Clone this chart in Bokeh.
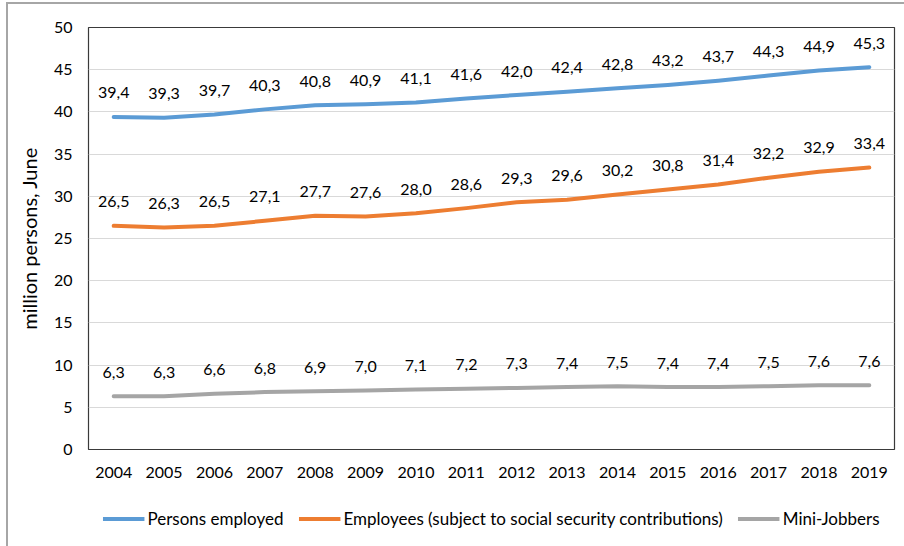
from bokeh.plotting import figure
from bokeh.models import Range1d, FixedTicker, Legend, LegendItem, ColumnDataSource
from bokeh.layouts import column
from bokeh.embed import file_html
from bokeh.resources import INLINE
from bokeh.core.properties import value

years = list(range(2004, 2020))
persons_employed = [39.4, 39.3, 39.7, 40.3, 40.8, 40.9, 41.1, 41.6, 42.0, 42.4, 42.8, 43.2, 43.7, 44.3, 44.9, 45.3]
employees_ssc = [26.5, 26.3, 26.5, 27.1, 27.7, 27.6, 28.0, 28.6, 29.3, 29.6, 30.2, 30.8, 31.4, 32.2, 32.9, 33.4]
mini_jobbers = [6.3, 6.3, 6.6, 6.8, 6.9, 7.0, 7.1, 7.2, 7.3, 7.4, 7.5, 7.4, 7.4, 7.5, 7.6, 7.6]
series_names = ["Persons employed", "Employees (subject to social security contributions)", "Mini-Jobbers"]
colors = ["#5B9BD5", "#ED7D31", "#A5A5A5"]
y_ticks = [0, 5, 10, 15, 20, 25, 30, 35, 40, 45, 50]

FONT = "Lato"

p = figure(width=896, height=486, output_backend="svg", toolbar_location=None,
           x_range=Range1d(2003.5, 2019.5), y_range=Range1d(0, 50),
           min_border_left=80, min_border_right=10, min_border_top=23, min_border_bottom=41)
p.background_fill_color = "white"
p.border_fill_color = "white"
p.outline_line_color = "#3A3A3A"
p.outline_line_width = 1.2
p.outline_line_alpha = 1

p.xgrid.grid_line_color = None
p.ygrid.grid_line_color = "#D9D9D9"
p.ygrid.grid_line_width = 1

p.xaxis.ticker = FixedTicker(ticks=years)
p.xaxis.major_label_overrides = {y: str(y) for y in years}
p.yaxis.ticker = FixedTicker(ticks=y_ticks)
for ax in (p.xaxis, p.yaxis):
    ax.axis_line_color = None
    ax.major_tick_line_color = None
    ax.minor_tick_line_color = None
    ax.major_tick_in = 0
    ax.major_tick_out = 0
    ax.major_label_text_font = FONT
    ax.major_label_text_font_size = "16px"
    ax.major_label_text_color = "#000000"
p.xaxis.major_label_standoff = 17
p.yaxis.major_label_standoff = 16
p.yaxis.axis_label = "million persons, June"
p.yaxis.axis_label_text_font = FONT
p.yaxis.axis_label_text_font_size = "20px"
p.yaxis.axis_label_text_font_style = "normal"
p.yaxis.axis_label_text_color = "#000000"
p.yaxis.axis_label_standoff = 10

# legend strip below the chart (its frame is aligned with the chart's frame)
lg = figure(width=896, height=56, output_backend="svg", toolbar_location=None,
            x_range=Range1d(0, 1), y_range=Range1d(0, 1), x_axis_type=None, y_axis_type=None,
            min_border=0, min_border_left=0, min_border_right=0, min_border_top=0, min_border_bottom=0)
lg.outline_line_color = None
lg.xgrid.grid_line_color = None
lg.ygrid.grid_line_color = None
lg.background_fill_color = "white"
lg.border_fill_color = "white"

items = []
for name, vals, col in zip(series_names, [persons_employed, employees_ssc, mini_jobbers], colors):
    src = ColumnDataSource(dict(x=years, y=vals, lab=[f"{v:.1f}".replace(".", ",") for v in vals]))
    p.line("x", "y", source=src, line_color=col, line_width=4, line_cap="round", line_join="round")
    p.text("x", "y", text="lab", source=src, text_align="center", text_baseline="middle",
           y_offset=-24, text_font=value(FONT), text_font_size="16px", text_color="#000000")
    # legend proxy: same series, lies outside the strip's ranges, only its legend glyph shows
    proxy = lg.line("x", "y", source=src, line_color=col, line_width=4)
    items.append(LegendItem(label=name, renderers=[proxy]))

legend = Legend(items=items, orientation="horizontal", location="center",
                glyph_width=42, glyph_height=20, label_standoff=3, spacing=15,
                padding=0, margin=0, border_line_color=None, background_fill_alpha=0,
                label_text_font=FONT, label_text_font_size="17px", label_text_color="#000000")
lg.add_layout(legend, "center")

layout = column(p, lg, spacing=0)
layout.styles = {"border-top": "2px solid #A6A6A6", "border-left": "2px solid #A6A6A6",
                 "margin-left": "6px", "margin-top": "2px"}

open("out.html", "w").write(file_html(layout, INLINE))
